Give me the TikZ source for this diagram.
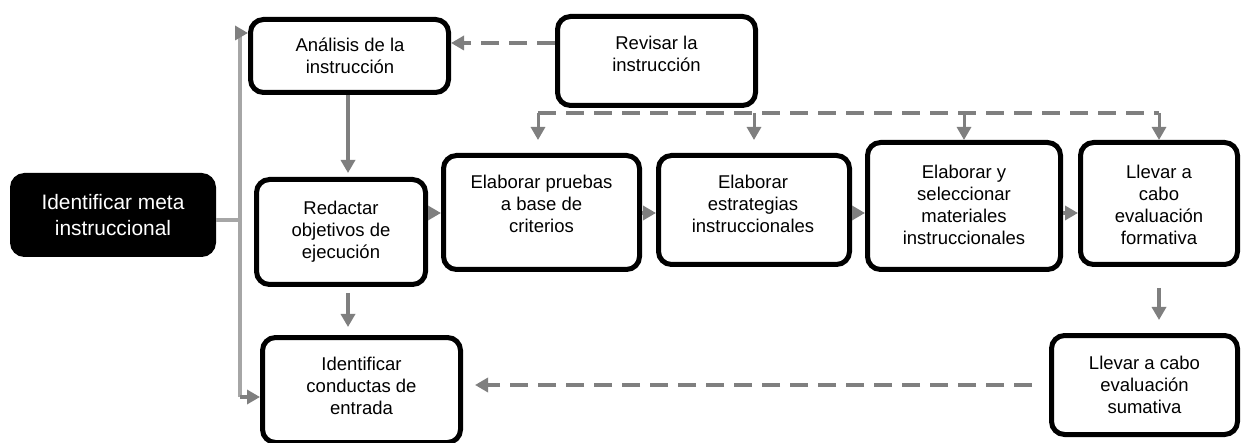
\documentclass[tikz,border=0pt]{standalone}
\usepackage{fontspec}
\setmainfont{Liberation Sans}
\usetikzlibrary{arrows.meta,calc}

\definecolor{arrowgray}{HTML}{7F7F7F}
\definecolor{spinegray}{HTML}{A6A6A6}

\begin{document}
\begin{tikzpicture}[x=1pt,y=-1pt,
  stepbox/.style={draw=black, line width=5pt, rounded corners=13pt, fill=white,
    inner sep=0pt, outer sep=2.5pt},
  goalbox/.style={draw=black, fill=black, line width=5pt, rounded corners=12pt,
    inner sep=0pt, outer sep=2.5pt, text=white, align=center,
    font=\fontsize{20.9}{26}\selectfont},
  steptext/.style={align=center, inner sep=0pt, font=\fontsize{18.5}{22}\selectfont},
  flow/.style={draw=arrowgray, line width=3.5pt, -{Triangle[length=13pt,width=14pt]}},
  dashline/.style={draw=arrowgray, line width=4pt, dash pattern=on 18pt off 10pt},
  feedback/.style={dashline, -{Triangle[length=13pt,width=14pt]}},
  spine/.style={draw=spinegray, line width=4pt},
]
\useasboundingbox (0,0) rectangle (1241,443);
\clip (0,0) rectangle (1241,443);

% ---- goal ----
\node[goalbox, minimum width=201pt, minimum height=79pt] (meta) at (113,215)
  {Identificar meta\\instruccional};

% ---- step boxes ----
\node[stepbox, minimum width=198pt, minimum height=73pt]  (analisis)    at (349.5,56)   {};
\node[stepbox, minimum width=198pt, minimum height=89pt]  (revisar)     at (656.5,61)   {};
\node[stepbox, minimum width=169pt, minimum height=105pt] (redactar)    at (341,232)    {};
\node[stepbox, minimum width=196pt, minimum height=114pt] (pruebas)     at (541.5,212.5){};
\node[stepbox, minimum width=191pt, minimum height=109pt] (estrategias) at (754,210)    {};
\node[stepbox, minimum width=193pt, minimum height=127pt] (elabsel)     at (964,206)    {};
\node[stepbox, minimum width=157pt, minimum height=122pt] (formativa)   at (1159,203.5) {};
\node[stepbox, minimum width=186pt, minimum height=99pt]  (sumativa)    at (1144.5,385) {};
\node[stepbox, minimum width=198pt, minimum height=105pt] (conductas)   at (361.5,390)  {};

% ---- box texts ----
\node[steptext] (analisis-t)    at (350,56)    {Análisis de la\\instrucción};
\node[steptext] (revisar-t)     at (656.5,54)  {Revisar la\\instrucción};
\node[steptext] (redactar-t)    at (341,232)   {Redactar\\objetivos de\\ejecución};
\node[steptext] (pruebas-t)     at (541.5,204) {Elaborar pruebas\\a base de\\criterios};
\node[steptext] (estrategias-t) at (753,204)   {Elaborar\\estrategias\\instruccionales};
\node[steptext] (elabsel-t)     at (964,204.5) {Elaborar y\\seleccionar\\materiales\\instruccionales};
\node[steptext] (formativa-t)   at (1159,204.5){Llevar a\\cabo\\evaluación\\formativa};
\node[steptext] (sumativa-t)    at (1144.5,385){Llevar a cabo\\evaluación\\sumativa};
\node[steptext] (conductas-t)   at (361.5,386) {Identificar\\conductas de\\entrada};

% ---- helper coordinates ----
\coordinate (spinetop) at (240,33);
\coordinate (spinebot) at (240,397);
\coordinate (goalout)  at ([yshift=-5pt]meta.east);
\coordinate (colA)     at (348,0);
\coordinate (row)      at (0,213);
\coordinate (fbtop)    at (0,43);
\coordinate (bus)      at (0,113);
\coordinate (droplevel) at (0,140);

% ---- spine from the goal ----
\draw[spine] (goalout) -- (goalout -| spinetop);
\draw[spine] (spinetop) -- (spinebot);
\draw[flow] (spinetop) -- (spinetop -| analisis.west);
\draw[flow] (spinebot) -- (spinebot -| conductas.west);

% ---- main flow ----
\draw[flow, shorten >=4pt] (analisis.south -| colA) -- (redactar.north -| colA);
\draw[flow, shorten <=6pt, shorten >=8pt] (redactar.south -| colA) -- (conductas.north -| colA);
\draw[flow] (redactar.east |- row)    -- (pruebas.west |- row);
\draw[flow] (pruebas.east |- row)     -- (estrategias.west |- row);
\draw[flow] (estrategias.east |- row) -- (elabsel.west |- row);
\draw[flow] (elabsel.east |- row)     -- (formativa.west |- row);
\draw[flow, shorten <=21pt, shorten >=13pt] (formativa.south) -- (sumativa.north -| formativa.south);

% ---- revision feedback ----
\draw[feedback] (revisar.west |- fbtop) -- (analisis.east |- fbtop);
\draw[dashline] ([xshift=-3.5pt]pruebas.north |- bus) -- (formativa.north |- bus);
\draw[flow, line width=3pt] ([xshift=-3.5pt]pruebas.north |- bus) -- ([xshift=-3.5pt]pruebas.north |- droplevel);
\draw[flow, line width=3pt] (estrategias.north |- bus) -- (estrategias.north |- droplevel);
\draw[flow, line width=3pt] (elabsel.north |- bus)     -- (elabsel.north |- droplevel);
\draw[flow, line width=3pt] (formativa.north |- bus)   -- (formativa.north |- droplevel);
\draw[feedback, shorten <=17pt, shorten >=12pt] (sumativa.west) -- (sumativa.west -| conductas.east);
\end{tikzpicture}
\end{document}
